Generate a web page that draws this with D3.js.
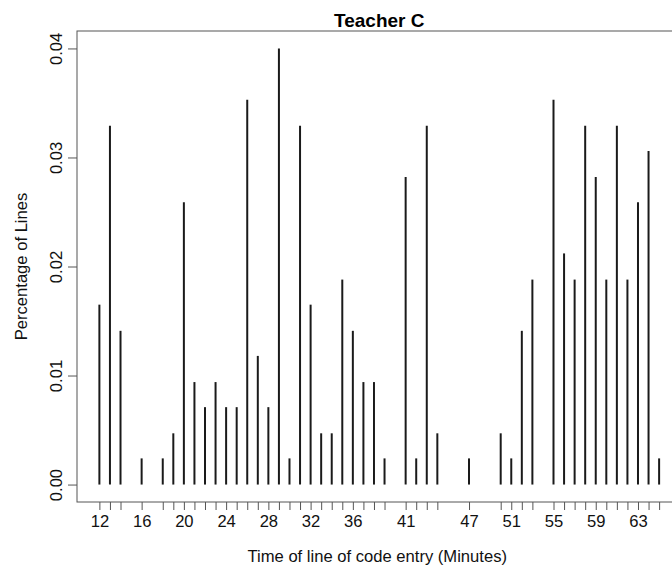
<!DOCTYPE html>
<html>
<head>
<meta charset="utf-8">
<script src="https://cdn.jsdelivr.net/npm/d3@7"></script>
<style>
  body { margin: 0; background: #fff; }
  svg { display: block; font-family: "Liberation Sans", Arial, sans-serif; }
</style>
</head>
<body>
<svg id="chart" width="672" height="569"></svg>
<script>
// minutes where at least one line of code was entered
const minutes = [12, 13, 14, 16, 18, 19, 20, 21, 22, 23, 24, 25, 26, 27, 28, 29,
  30, 31, 32, 33, 34, 35, 36, 37, 38, 39, 41, 42, 43, 44, 47,
  50, 51, 52, 53, 55, 56, 57, 58, 59, 60, 61, 62, 63, 64, 65];
// share of lines per minute
const share = [0.0165, 0.0329, 0.0141, 0.0024, 0.0024, 0.0047, 0.0259, 0.0094, 0.0071, 0.0094, 0.0071, 0.0071, 0.0353, 0.0118, 0.0071, 0.0400,
  0.0024, 0.0329, 0.0165, 0.0047, 0.0047, 0.0188, 0.0141, 0.0094, 0.0094, 0.0024, 0.0282, 0.0024, 0.0329, 0.0047, 0.0024,
  0.0047, 0.0024, 0.0141, 0.0188, 0.0353, 0.0212, 0.0188, 0.0329, 0.0282, 0.0188, 0.0329, 0.0188, 0.0259, 0.0306, 0.0024];
const yTicks = [0, 0.01, 0.02, 0.03, 0.04];
const yTickLabels = ["0.00", "0.01", "0.02", "0.03", "0.04"];
const xLabelTicks = [12, 16, 20, 24, 28, 32, 36, 41, 47, 51, 55, 59, 63];

const svg = d3.select("#chart");
const margin = { top: 31, left: 77 };
const plotRight = 681.5, plotBottom = 502;
const fontSize = "16.6px";

// R style 4% padding around the data range
const xMin = d3.min(minutes), xMax = d3.max(minutes);
const xPad = (xMax - xMin) * 0.04;
const x = d3.scaleLinear()
  .domain([xMin - xPad, xMax + xPad])
  .range([margin.left, plotRight]);

const yPad = 0.04 * 0.04;
const y = d3.scaleLinear()
  .domain([-yPad, 0.04 + yPad])
  .range([plotBottom, margin.top]);

// spikes
svg.append("g")
  .selectAll("line")
  .data(minutes)
  .join("line")
  .attr("x1", d => x(d))
  .attr("x2", d => x(d))
  .attr("y1", y(0))
  .attr("y2", (d, i) => y(share[i]))
  .attr("stroke", "#1a1a1a")
  .attr("stroke-width", 2);

// box
svg.append("rect")
  .attr("x", margin.left)
  .attr("y", margin.top)
  .attr("width", plotRight - margin.left)
  .attr("height", plotBottom - margin.top)
  .attr("fill", "none")
  .attr("stroke", "#555")
  .attr("stroke-width", 1);

const xAxis = g => g
  .attr("transform", `translate(0,${plotBottom})`)
  .style("font-size", fontSize)
  .call(d3.axisBottom(x)
    .tickValues(minutes)
    .tickFormat(d => xLabelTicks.includes(d) ? d : "")
    .tickSize(8)
    .tickSizeOuter(0))
  .call(g => g.select(".domain").remove())
  .call(g => g.selectAll(".tick line").attr("stroke", "#555"))
  .call(g => g.selectAll(".tick text")
    .attr("fill", "#111")
    .attr("font-family", null)
    .attr("y", 25)
    .attr("dy", null));

const yAxis = g => g
  .attr("transform", `translate(${margin.left},0)`)
  .style("font-size", fontSize)
  .call(d3.axisLeft(y)
    .tickValues(yTicks)
    .tickFormat((d, i) => yTickLabels[i])
    .tickSize(9)
    .tickSizeOuter(0))
  .call(g => g.select(".domain").remove())
  .call(g => g.selectAll(".tick line").attr("stroke", "#555"))
  .call(g => g.selectAll(".tick text")
    .attr("fill", "#111")
    .attr("font-family", null)
    .attr("x", null)
    .attr("dy", null)
    .attr("text-anchor", "middle")
    .attr("transform", "translate(-15,0) rotate(-90)"));

svg.append("g").call(xAxis);
svg.append("g").call(yAxis);

svg.append("text")
  .attr("x", (margin.left + plotRight) / 2)
  .attr("y", 26.5)
  .attr("text-anchor", "middle")
  .attr("font-weight", "bold")
  .attr("font-size", "19px")
  .attr("fill", "#000")
  .text("Teacher C");

svg.append("text")
  .attr("x", (margin.left + plotRight) / 2 - 2)
  .attr("y", 562)
  .attr("text-anchor", "middle")
  .attr("font-size", fontSize)
  .attr("fill", "#111")
  .text("Time of line of code entry (Minutes)");

svg.append("text")
  .attr("transform", `translate(27,${(margin.top + plotBottom) / 2}) rotate(-90)`)
  .attr("text-anchor", "middle")
  .attr("font-size", fontSize)
  .attr("fill", "#111")
  .text("Percentage of Lines");
</script>
</body>
</html>
